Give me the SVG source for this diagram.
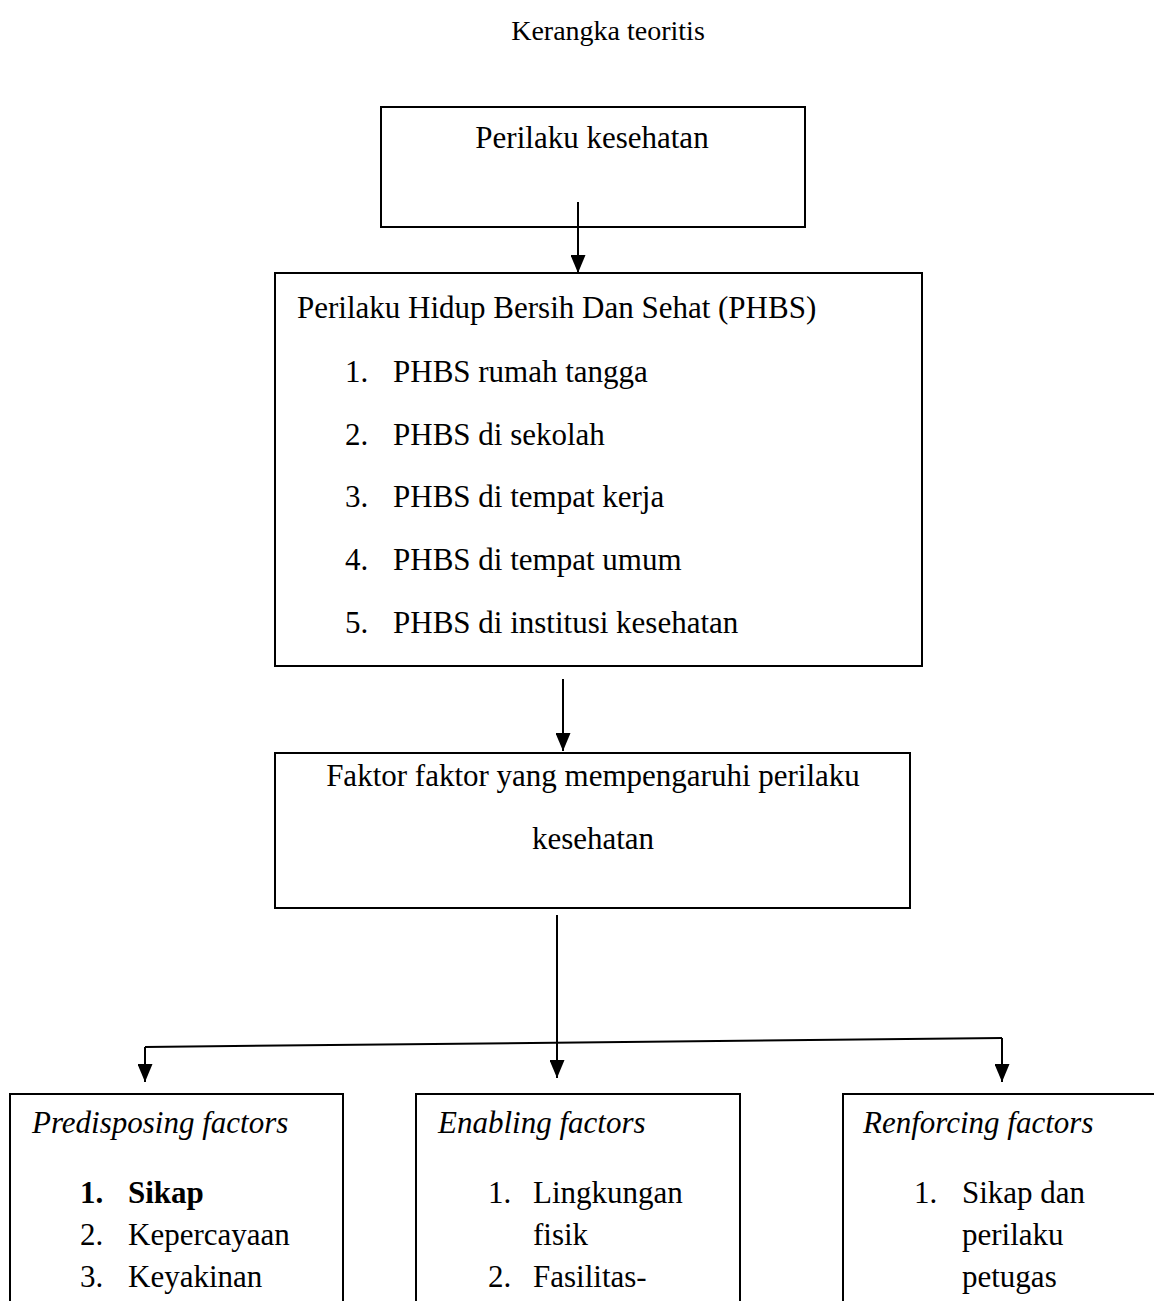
<svg xmlns="http://www.w3.org/2000/svg" width="1154" height="1301" viewBox="0 0 1154 1301">
<defs>
<style>
text{font-family:"Liberation Serif","Times New Roman",serif;font-size:31px;fill:#000}
.box{fill:#fff;stroke:#000;stroke-width:2}
.ln{stroke:#000;stroke-width:2;fill:none}
.it{font-style:italic}
.b{font-weight:bold}
.c{text-anchor:middle}
</style>
<marker id="ah" viewBox="0 0 18 15" refX="18" refY="7.5" markerWidth="18" markerHeight="15" markerUnits="userSpaceOnUse" orient="auto">
<path d="M0,0 L18,7.5 L0,15 Z" fill="#000"/>
</marker>
</defs>
<rect width="1154" height="1301" fill="#fff"/>
<text class="c" x="608" y="40" style="font-size:28px">Kerangka teoritis</text>

<g id="n1">
<rect class="box" x="381" y="107" width="424" height="120"/>
<text class="c" x="592" y="148">Perilaku kesehatan</text>
</g>

<g id="n2">
<rect class="box" x="275" y="273" width="647" height="393"/>
<text x="297" y="318">Perilaku Hidup Bersih Dan Sehat (PHBS)</text>
<text x="345" y="382">1.</text><text x="393" y="382">PHBS rumah tangga</text>
<text x="345" y="445">2.</text><text x="393" y="445">PHBS di sekolah</text>
<text x="345" y="507">3.</text><text x="393" y="507">PHBS di tempat kerja</text>
<text x="345" y="570">4.</text><text x="393" y="570">PHBS di tempat umum</text>
<text x="345" y="633">5.</text><text x="393" y="633">PHBS di institusi kesehatan</text>
</g>

<g id="n3">
<rect class="box" x="275" y="753" width="635" height="155"/>
<text class="c" x="593" y="786">Faktor faktor yang mempengaruhi perilaku</text>
<text class="c" x="593" y="849">kesehatan</text>
</g>

<g id="n4">
<rect class="box" x="10" y="1094" width="333" height="230"/>
<text class="it" x="32" y="1133">Predisposing factors</text>
<text class="b" x="80" y="1203">1.</text><text class="b" x="128" y="1203">Sikap</text>
<text x="80" y="1245">2.</text><text x="128" y="1245">Kepercayaan</text>
<text x="80" y="1287">3.</text><text x="128" y="1287">Keyakinan</text>
</g>

<g id="n5">
<rect class="box" x="416" y="1094" width="324" height="230"/>
<text class="it" x="438" y="1133">Enabling factors</text>
<text x="488" y="1203">1.</text><text x="533" y="1203">Lingkungan</text>
<text x="533" y="1245">fisik</text>
<text x="488" y="1287">2.</text><text x="533" y="1287">Fasilitas-</text>
</g>

<g id="n6">
<rect class="box" x="843" y="1094" width="330" height="230"/>
<text class="it" x="863" y="1133">Renforcing factors</text>
<text x="914" y="1203">1.</text><text x="962" y="1203">Sikap dan</text>
<text x="962" y="1245">perilaku</text>
<text x="962" y="1287">petugas</text>
</g>

<g id="connectors">
<line class="ln" x1="578" y1="202" x2="578" y2="273" marker-end="url(#ah)"/>
<line class="ln" x1="563" y1="679" x2="563" y2="751" marker-end="url(#ah)"/>
<line class="ln" x1="557" y1="915" x2="557" y2="1078" marker-end="url(#ah)"/>
<line class="ln" x1="145" y1="1047" x2="1002" y2="1038"/>
<line class="ln" x1="145" y1="1047" x2="145" y2="1082" marker-end="url(#ah)"/>
<line class="ln" x1="1002" y1="1038" x2="1002" y2="1082" marker-end="url(#ah)"/>
</g>
</svg>
